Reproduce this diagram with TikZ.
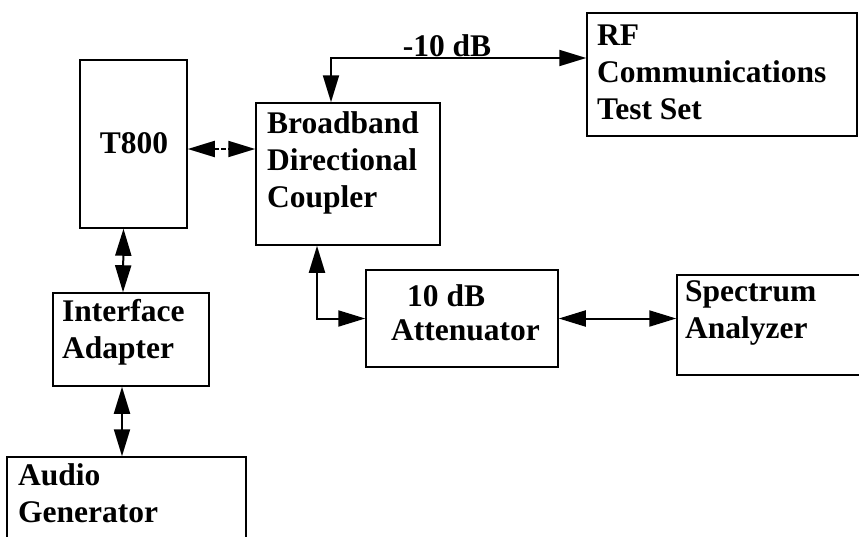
\documentclass[tikz,border=0pt]{standalone}
\usepackage{fontspec}
\setmainfont{Liberation Serif}
\usetikzlibrary{arrows.meta}
\begin{document}
\begin{tikzpicture}[x=1pt,y=-1pt,
  box/.style={draw,line width=1.5pt,inner sep=0pt},
  lbl/.style={font=\fontsize{31.5}{37}\selectfont\bfseries,inner sep=0pt,align=left,anchor=base west},
  tip/.tip={Triangle[length=27pt,width=16pt]},
  conn/.style={line width=2pt,tip-tip}]
\clip (0,0) rectangle (859,536);
\fill[white] (0,0) rectangle (859,536);
% boxes
\node[box,minimum width=107pt,minimum height=168pt] (t800) at (133.5,144) {};
\node[box,minimum width=184pt,minimum height=142pt] (coup) at (348,174) {};
\node[box,minimum width=270pt,minimum height=123pt] (rf) at (722,74.5) {};
\node[box,minimum width=156pt,minimum height=93pt] (ifc) at (131,339.5) {};
\node[box,minimum width=239pt,minimum height=120pt] (aud) at (126.5,517) {};
\node[box,minimum width=192pt,minimum height=97pt] (att) at (462,318.5) {};
\node[box,minimum width=223pt,minimum height=100pt] (spec) at (788.5,325) {};
% texts (base anchor = baseline of the last line)
\node[lbl,anchor=base] (t800t) at (134,153) {T800};
\node[lbl] (coupt) at (267,207) {Broadband\\Directional\\Coupler};
\node[lbl] (rft) at (597,119) {RF\\Communications\\Test Set};
\node[lbl] (ifct) at (62,358) {Interface\\Adapter};
\node[lbl] (audt) at (18,522) {Audio\\Generator};
\node[lbl] (att1) at (407,306) {10 dB};
\node[lbl] (att2) at (391,340) {Attenuator};
\node[lbl] (spect) at (685,338) {Spectrum\\Analyzer};
\node[lbl,anchor=base] (db) at (447,56) {-10 dB};
% connectors
\coordinate (h1) at (0,149);
\draw[conn,dash pattern=on 5pt off 2pt] (t800.east |- h1) -- (coup.west |- h1);
\draw[conn] ([xshift=-10pt]t800.south) -- ([xshift=-8pt]ifc.north);
\draw[conn] ([xshift=-9pt]ifc.south) -- ([xshift=-4.5pt]aud.north);
\draw[conn] ([xshift=-17pt]coup.north) |- ([yshift=16.5pt]rf.west);
\draw[conn] ([xshift=-31pt]coup.south) |- (att.west);
\draw[conn] (att.east) -- (att.east -| spec.west);
\end{tikzpicture}
\end{document}
